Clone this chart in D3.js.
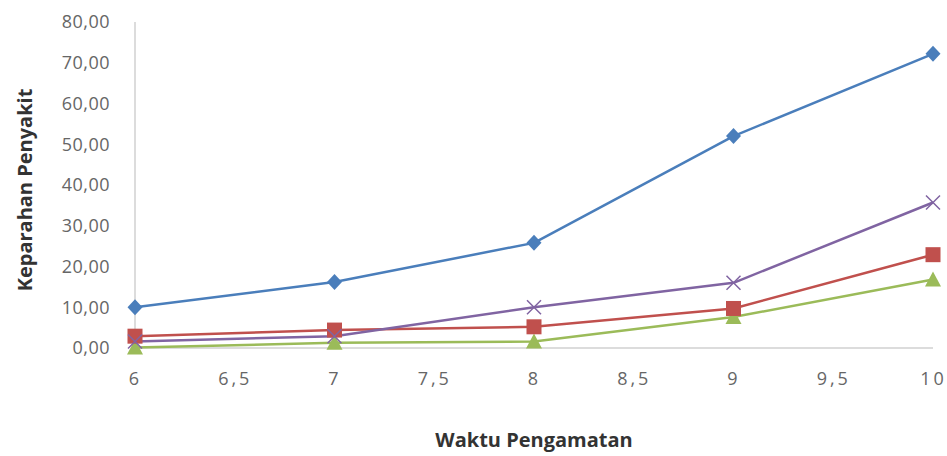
<!DOCTYPE html>
<html><head><meta charset="utf-8">
<script src="https://cdn.jsdelivr.net/npm/d3@7"></script>
<style>body{margin:0;background:#fff}svg{display:block}</style>
</head><body>
<svg id="c" width="947" height="456"></svg>
<script>
const xValues = [6, 7, 8, 9, 10];
const seriesBlue = [10.0, 16.2, 25.8, 52.0, 72.2];
const seriesRed = [2.9, 4.4, 5.2, 9.7, 22.9];
const seriesGreen = [0.1, 1.3, 1.6, 7.6, 16.8];
const seriesPurple = [1.6, 2.9, 10.0, 16.0, 35.7];
const xTicks = [6, 6.5, 7, 7.5, 8, 8.5, 9, 9.5, 10];
const yTicks = [0, 10, 20, 30, 40, 50, 60, 70, 80];
const xTitle = "Waktu Pengamatan";
const yTitle = "Keparahan Penyakit";

const svg = d3.select("#c");
const x = d3.scaleLinear().domain([6, 10]).range([135, 933]);
const y = d3.scaleLinear().domain([0, 80]).range([348, 22]);
const fmt = v => v.toFixed(2).replace(".", ",");
const fmtX = v => String(v).replace(".", ",");

svg.append("line").attr("x1", x(6)).attr("x2", x(6)).attr("y1", y(80)).attr("y2", y(0)).attr("stroke", "#d0d0d0").attr("stroke-width", 1.5);
svg.append("line").attr("x1", x(6)).attr("x2", x(10)).attr("y1", y(0)).attr("y2", y(0)).attr("stroke", "#d0d0d0").attr("stroke-width", 1.5);

const yAxis = d3.axisLeft(y).tickValues(yTicks).tickFormat(fmt).tickSize(0).tickPadding(25);
const gy = svg.append("g").attr("transform", `translate(${x(6)},0)`).call(yAxis);
gy.select(".domain").remove();
gy.selectAll("text").attr("font-family", "'Open Sans', sans-serif").attr("font-size", 18).attr("fill", "#666").attr("letter-spacing", "0.5px");

const xAxis = d3.axisBottom(x).tickValues(xTicks).tickFormat(fmtX).tickSize(0).tickPadding(24);
const gx = svg.append("g").attr("transform", `translate(0,${y(0)})`).call(xAxis);
gx.select(".domain").remove();
gx.selectAll("text").attr("font-family", "'Open Sans', sans-serif").attr("font-size", 18).attr("fill", "#666").attr("letter-spacing", "3px");

svg.append("text").attr("x", 534).attr("y", 447).attr("text-anchor", "middle")
  .attr("font-family", "'Open Sans', sans-serif").attr("font-weight", "bold").attr("font-size", 20).attr("fill", "#333").text(xTitle);
svg.append("text").attr("transform", "translate(32,190) rotate(-90)").attr("text-anchor", "middle")
  .attr("font-family", "'Open Sans', sans-serif").attr("font-weight", "bold").attr("font-size", 20).attr("fill", "#333").text(yTitle);

const line = d3.line().x((d, i) => x(xValues[i])).y(d => y(d));
const series = [
  {v: seriesGreen, c: "#9BBB59", m: "triangle"},
  {v: seriesRed, c: "#C0504D", m: "square"},
  {v: seriesPurple, c: "#8064A2", m: "x"},
  {v: seriesBlue, c: "#4A7EBB", m: "diamond"}
];
series.forEach(s => {
  svg.append("path").attr("d", line(s.v)).attr("fill", "none").attr("stroke", s.c).attr("stroke-width", 2.5).attr("stroke-linejoin", "round");
});
series.forEach(s => {
  s.v.forEach((d, i) => {
    const cx = x(xValues[i]), cy = y(d);
    if (s.m === "diamond") {
      svg.append("path").attr("d", `M${cx},${cy-8}L${cx+7.5},${cy}L${cx},${cy+8}L${cx-7.5},${cy}Z`).attr("fill", s.c);
    } else if (s.m === "square") {
      svg.append("rect").attr("x", cx - 7.5).attr("y", cy - 7.5).attr("width", 15).attr("height", 15).attr("fill", s.c);
    } else if (s.m === "triangle") {
      svg.append("path").attr("d", `M${cx},${cy-8}L${cx+8},${cy+7}L${cx-8},${cy+7}Z`).attr("fill", s.c);
    } else {
      svg.append("path").attr("d", `M${cx-7},${cy-7}L${cx+7},${cy+7}M${cx-7},${cy+7}L${cx+7},${cy-7}`).attr("stroke", s.c).attr("stroke-width", 1.5);
    }
  });
});
</script>
</body></html>
